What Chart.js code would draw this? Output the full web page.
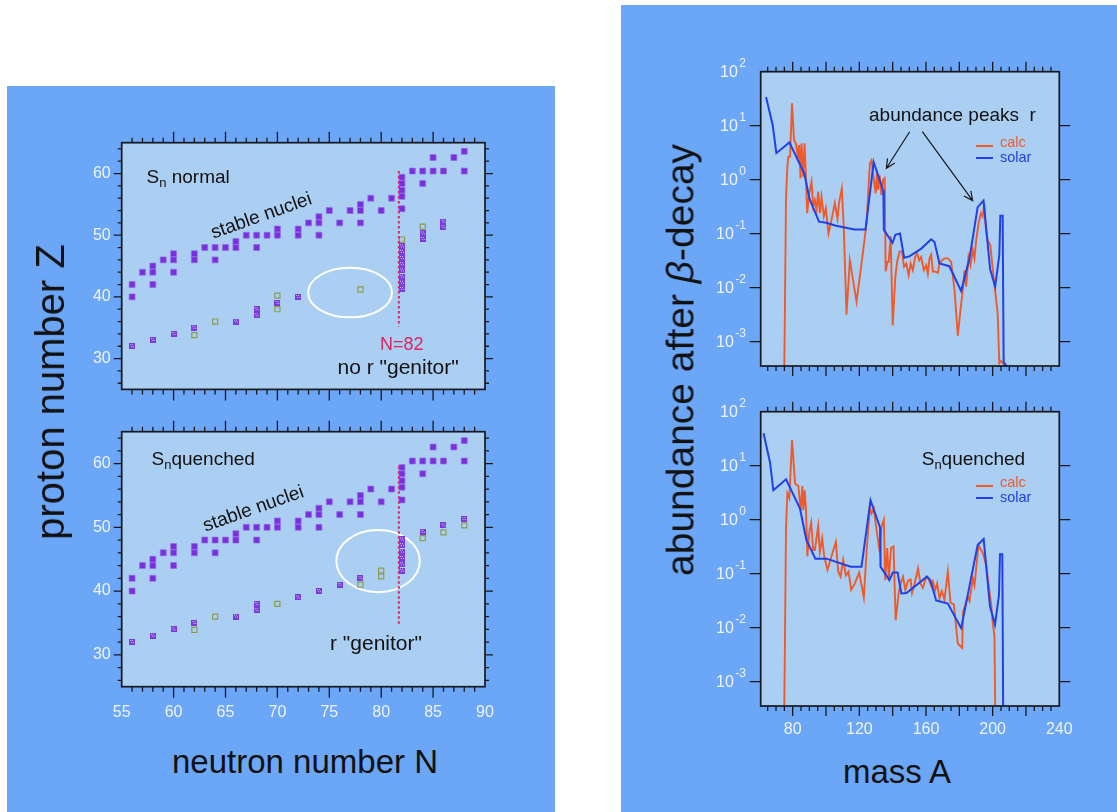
<!DOCTYPE html>
<html>
<head>
<meta charset="utf-8">
<script src="https://cdn.jsdelivr.net/npm/chart.js@4.4.1/dist/chart.umd.min.js"></script>
<style>
  body { margin: 0; width: 1117px; height: 812px; background: #fff; position: relative; overflow: hidden;
         font-family: "Liberation Sans", Arial, sans-serif; }
  .panel { position: absolute; background: #6ba6f7; }
  canvas { position: absolute; }
  .txt { position: absolute; white-space: pre; line-height: 1; color: #111; }
  .sub { position: relative; top: 4px; font-size: 13px; }
  .title { position: absolute; white-space: pre; line-height: 1; color: #111; transform: translate(-50%, -50%); }
  .leg { position: absolute; width: 17px; height: 0; border-top: 2px solid; }
</style>
</head>
<body>
<div class="panel" style="left:7px;top:86px;width:548px;height:726px"></div>
<div class="panel" style="left:621px;top:5px;width:496px;height:807px"></div>

<canvas id="zNormal" style="left:56px;top:120px" width="454" height="290"></canvas>
<canvas id="zQuench" style="left:56px;top:410px" width="454" height="320"></canvas>
<canvas id="abNormal" style="left:700px;top:50px" width="380" height="330"></canvas>
<canvas id="abQuench" style="left:700px;top:390px" width="380" height="360"></canvas>

<!-- left panel notes -->
<div class="txt" style="left:146.5px;top:167.2px;font-size:19px">S<span class="sub">n</span> normal</div>
<div class="title" style="left:261px;top:215px;font-size:19px;transform:translate(-50%,-50%) rotate(-19.5deg)">stable nuclei</div>
<div class="txt" style="left:380px;top:334.8px;font-size:18px;color:#e0245e">N=82</div>
<div class="txt" style="left:337.5px;top:355.7px;font-size:21px">no r "genitor"</div>
<div class="txt" style="left:151.5px;top:448.9px;font-size:19px">S<span class="sub">n</span>quenched</div>
<div class="title" style="left:253px;top:508px;font-size:19px;transform:translate(-50%,-50%) rotate(-19.5deg)">stable nuclei</div>
<div class="txt" style="left:330px;top:632.2px;font-size:21px">r "genitor"</div>

<!-- right panel notes -->
<div class="txt" style="left:869px;top:104.9px;font-size:19px">abundance peaks  r</div>
<div class="leg" style="left:976px;top:145px;border-color:#f05a28"></div>
<div class="txt" style="left:1000px;top:135px;font-size:14.5px;color:#f05a28">calc</div>
<div class="leg" style="left:976px;top:157px;border-color:#2040e8"></div>
<div class="txt" style="left:1000px;top:150px;font-size:14.5px;color:#2040e8">solar</div>
<div class="txt" style="left:921.7px;top:448.9px;font-size:19px">S<span class="sub">n</span>quenched</div>
<div class="leg" style="left:976px;top:485px;border-color:#f05a28"></div>
<div class="txt" style="left:1000px;top:475px;font-size:14.5px;color:#f05a28">calc</div>
<div class="leg" style="left:976px;top:497px;border-color:#2040e8"></div>
<div class="txt" style="left:1000px;top:490px;font-size:14.5px;color:#2040e8">solar</div>

<!-- axis titles -->
<div class="title" style="left:50px;top:392px;font-size:40px;transform:translate(-50%,-50%) rotate(-90deg)">proton number Z</div>
<div class="title" style="left:305px;top:761px;font-size:33px">neutron number N</div>
<div class="title" style="left:680px;top:360px;font-size:39px;transform:translate(-50%,-50%) rotate(-90deg)">abundance after <i>β</i>-decay</div>
<div class="title" style="left:897px;top:771px;font-size:33px">mass A</div>

<script>
// nuclide chart, left panel
var nTicks = [55, 60, 65, 70, 75, 80, 85, 90];
var zTicks = [30, 40, 50, 60];

var stableN = [56, 56, 57, 58, 58, 58, 59, 60, 60, 60, 62, 62, 63, 64, 64, 65, 66, 66, 67, 68, 68, 69, 70, 70, 72, 72, 73, 74, 74, 74,
               75, 76, 77, 78, 78, 78, 79, 80, 81, 82, 82, 82, 82, 82, 83, 84, 84, 85, 85, 86, 87, 88, 88];
var stableZ = [42, 40, 44, 45, 44, 42, 46, 47, 46, 44, 47, 46, 48, 48, 46, 48, 49, 48, 50, 50, 48, 50, 51, 50, 51, 50, 52, 53, 52, 50,
               54, 52, 54, 55, 54, 52, 56, 54, 56, 59.4, 58.4, 57.3, 56.3, 54.3, 60.4, 60.4, 58.4, 62.6, 60.4, 60.4, 62.6, 63.6, 60.4];

// S_n normal
var rNormN = [56, 58, 60, 62, 66, 68, 68, 70, 72, 82, 82, 82, 82, 82, 82, 82, 82, 84, 84, 86, 86];
var rNormZ = [32, 33, 34, 35, 36, 37, 38, 39, 40, 41.3, 42.3, 43.3, 44.3, 45.3, 46.3, 47.3, 48.2, 49.4, 50.3, 51.3, 52.2];
var openNormN = [62, 64, 70, 70, 78, 82, 84];
var openNormZ = [33.8, 36, 40.2, 38, 41.2, 49.3, 51.4];
var magicNormN = [81.7, 81.7];
var magicNormZ = [60.4, 35.2];

// S_n quenched
var rQuenchN = [56, 58, 60, 62, 66, 68, 68, 72, 74, 76, 78, 82, 82, 82, 82, 82, 82, 84, 86, 88];
var rQuenchZ = [32, 33, 34, 35, 36, 37, 38, 39, 40, 41, 42, 43.2, 44.2, 45.2, 46.2, 47.2, 48.1, 49.3, 50.3, 51.3];
var openQuenchN = [62, 64, 70, 78, 80, 80, 84, 86, 88];
var openQuenchZ = [33.9, 36, 38, 41, 42.3, 43.2, 48.3, 49.2, 50.3];
var magicQuenchN = [81.7, 81.7];
var magicQuenchZ = [59.6, 34.7];

// abundances, right panel
var massTicks = [80, 120, 160, 200, 240];
var decades = [-3, -2, -1, 0, 1, 2];

var solarNormA = [64, 68, 70.2, 78, 87, 90, 95.8, 100, 106, 117, 123.7, 128.6, 134.4, 134.7, 139.9, 141.6, 144.4, 146.9, 150, 157.2,
                  163.1, 165.1, 168.1, 174, 181.1, 186.1, 191, 194.5, 198.5, 201.5, 204, 204.6, 206, 206.6, 209];
var solarNormY = [34, 10.3, 3.1, 4.9, 1.3, 0.45, 0.167, 0.16, 0.14, 0.12, 0.12, 2.1, 0.62, 0.118, 0.068, 0.095, 0.101, 0.036, 0.038, 0.053,
                  0.079, 0.07, 0.028, 0.025, 0.0087, 0.035, 0.31, 0.41, 0.022, 0.0105, 0.04, 0.215, 0.215, 4.2e-4, 3.3e-4];

var calcNormA = [74.8, 76, 76.8, 77.4, 78.4, 79.6, 80.8, 81.9, 83.1, 83.9, 84.7, 85.3, 86.3, 87.1, 87.9, 88.7, 89.9, 91.3, 92.3, 93.3,
                 94.3, 95.3, 96.3, 97.3, 98.7, 99.9, 101.5, 103.3, 105.3, 106.9, 107.9, 109.5, 110.7, 112.3, 114.3, 118.3, 121.3, 124.3, 126.3, 127.3,
                 128.7, 129.8, 130.6, 131.2, 132.2, 133.2, 134.2, 135.2, 135.8, 136.8, 137.6, 138.8, 140.0, 141.6, 142.8, 144.2, 145.6, 146.8, 148.2, 149.6,
                 150.8, 152.1, 153.5, 154.7, 155.9, 157.1, 158.7, 160.1, 161.1, 162.1, 163.1, 164.1, 165.1, 167.1, 168.1, 169.5, 171.1, 173.1, 175.1, 177.1,
                 179.1, 180.7, 182.1, 183.1, 184.1, 185.5, 186.7, 188.1, 189.1, 190.1, 191.7, 193.0, 194.0, 195.0, 196.0, 197.0, 198.6, 199.4, 201.0, 203.0,
                 204.0, 205.0, 207.0, 210.0];
var calcNormY = [1e-4, 0.49, 1.74, 2.67, 2.67, 26, 5.4, 4.7, 2.67, 4.4, 1.06, 4.7, 1.14, 4.7, 1.22, 0.24, 0.56, 0.92, 0.32, 0.42,
                 0.275, 0.6, 0.24, 0.48, 0.21, 0.295, 0.10, 0.18, 0.37, 0.19, 0.39, 0.69, 0.117, 0.0032, 0.032, 0.0055, 0.028, 0.155, 2.0, 2.3,
                 0.99, 0.56, 1.5, 0.65, 1.2, 0.52, 0.99, 1.07, 0.02, 0.03, 0.03, 0.09, 0.002, 0.016, 0.032, 0.047, 0.047, 0.0245, 0.028, 0.017,
                 0.028, 0.021, 0.037, 0.043, 0.032, 0.037, 0.021, 0.026, 0.018, 0.035, 0.041, 0.02, 0.02, 0.019, 0.028, 0.032, 0.035, 0.035, 0.03, 0.0091,
                 0.0013, 0.0039, 0.0091, 0.021, 0.0105, 0.037, 0.026, 0.05, 0.035, 0.076, 0.166, 0.24, 0.21, 0.37, 0.117, 0.076, 0.062, 0.035, 0.012, 0.0034,
                 4e-4, 4.4e-4, 3.7e-4, 3.4e-4];

var solarQuenchA = [62.5, 66.4, 68.4, 76, 84.4, 88.2, 93.6, 100.3, 114.8, 121.3, 126.7, 132.4, 132.7, 138, 140.1, 143, 145.2, 148.3, 160.6, 162.6,
                    166.1, 173.1, 181.1, 191.0, 194.6, 198.4, 201.4, 203.8, 204.4, 205.8, 206.4];
var solarQuenchY = [40, 11.5, 3.5, 5.6, 1.6, 0.42, 0.19, 0.19, 0.135, 0.135, 2.3, 0.72, 0.135, 0.076, 0.105, 0.105, 0.043, 0.044, 0.088, 0.076,
                    0.032, 0.028, 0.0098, 0.34, 0.44, 0.025, 0.0114, 0.04, 0.23, 0.23, 1e-4];

var calcQuenchA = [74.8, 76.0, 76.8, 78.0, 79.6, 81.4, 83.4, 84.8, 85.8, 86.4, 87.2, 88.0, 88.8, 90.0, 91.1, 92.3, 93.3, 95.3, 96.3, 97.7,
                   98.9, 100.9, 103.3, 105.9, 107.3, 108.7, 110.3, 111.9, 113.5, 115.1, 117.3, 119.9, 121.3, 122.7, 124.3, 126.3, 127.3, 128.7, 130.3, 131.9,
                   133.3, 134.7, 135.5, 136.7, 137.7, 139.0, 140.5, 141.8, 143.6, 144.8, 146.2, 147.6, 149.2, 150.8, 151.6, 153.2, 155.2, 156.7, 158.1, 160.2,
                   161.5, 163.1, 164.1, 165.5, 166.7, 168.1, 169.5, 171.1, 173.1, 174.7, 176.7, 179.1, 181.7, 182.3, 185.1, 186.1, 188.1, 189.1, 191.5, 194.1,
                   196.1, 199.1, 200.1, 201.1, 201.7];
var calcQuenchY = [1e-4, 0.74, 3.1, 2.5, 30, 4.7, 4.2, 1.5, 4.2, 1.5, 3.5, 1.5, 0.21, 0.6, 0.88, 0.275, 0.275, 0.76, 0.25, 0.45,
                   0.21, 0.118, 0.21, 0.39, 0.11, 0.088, 0.18, 0.093, 0.11, 0.05, 0.066, 0.105, 0.062, 0.036, 0.25, 1.7, 1.3, 1.6, 0.65, 0.30,
                   0.75, 1.0, 0.076, 0.30, 0.08, 0.30, 0.32, 0.0138, 0.044, 0.066, 0.088, 0.05, 0.074, 0.078, 0.044, 0.066, 0.126, 0.066, 0.055, 0.088,
                   0.08, 0.06, 0.072, 0.05, 0.066, 0.035, 0.048, 0.033, 0.11, 0.029, 0.027, 0.0051, 0.0042, 0.02, 0.037, 0.031, 0.082, 0.06, 0.34, 0.24,
                   0.145, 0.027, 0.012, 0.0068, 1e-4];

var fam = '"Liberation Sans", Arial, sans-serif';
var plotBg = '#abcff3';
var labelColor = '#eef4ff';
var inkColor = '#17181c';

Chart.defaults.font.family = fam;
Chart.defaults.animation = false;

function pts(xs, ys) {
    return xs.map(function (x, i) { return { x: x, y: ys[i] }; });
}

function tickList(from, to, step, major) {
    var out = [];
    for (var v = from; v <= to + 1e-9; v += step) {
        out.push({ v: v, major: Math.abs(v / major - Math.round(v / major)) < 1e-6 });
    }
    return out;
}

// small checkered square for the r-process nuclei
function hatched() {
    var c = document.createElement('canvas');
    c.width = 6; c.height = 6;
    var g = c.getContext('2d');
    g.fillStyle = '#7a3ade';
    g.fillRect(0, 0, 6, 6);
    g.fillStyle = '#d2c4f8';
    for (var i = 1; i < 5; i += 2)
        for (var j = 1; j < 5; j += 2)
            g.fillRect(i + (j === 3 ? 1 : 0), j, 1, 1);
    return c;
}
var hatchImg = hatched();

// plot background, frame, outward ticks and extra drawings
function frame(cfg) {
    return {
        id: 'frame',
        beforeDatasetsDraw: function (chart) {
            var ctx = chart.ctx, a = chart.chartArea, x = chart.scales.x, y = chart.scales.y;
            ctx.save();
            ctx.fillStyle = plotBg;
            ctx.fillRect(a.left, a.top, a.width, a.height);
            if (cfg.ellipse) {
                var e = cfg.ellipse;
                var cx = x.getPixelForValue(e.cx), cy = y.getPixelForValue(e.cy);
                ctx.beginPath();
                ctx.ellipse(cx, cy, Math.abs(x.getPixelForValue(e.cx + e.rx) - cx),
                            Math.abs(y.getPixelForValue(e.cy + e.ry) - cy), 0, 0, Math.PI * 2);
                ctx.strokeStyle = '#ffffff';
                ctx.lineWidth = 2;
                ctx.stroke();
            }
            ctx.restore();
        },
        afterDraw: function (chart) {
            var ctx = chart.ctx, a = chart.chartArea, x = chart.scales.x, y = chart.scales.y;
            ctx.save();
            ctx.strokeStyle = inkColor;
            ctx.lineWidth = 1.3;
            ctx.beginPath();
            cfg.xTicks.forEach(function (t) {
                var px = x.getPixelForValue(t.v), len = t.major ? cfg.xLen[1] : cfg.xLen[0];
                ctx.moveTo(px, a.top); ctx.lineTo(px, a.top - len);
                ctx.moveTo(px, a.bottom); ctx.lineTo(px, a.bottom + len);
            });
            cfg.yTicks.forEach(function (t) {
                var py = y.getPixelForValue(t.v), len = t.major ? cfg.yLen[1] : cfg.yLen[0];
                ctx.moveTo(a.left, py); ctx.lineTo(a.left - len, py);
                ctx.moveTo(a.right, py); ctx.lineTo(a.right + len, py);
            });
            ctx.stroke();

            (cfg.arrows || []).forEach(function (ar) {
                var x1 = x.getPixelForValue(ar.from[0]), y1 = y.getPixelForValue(ar.from[1]);
                var x2 = x.getPixelForValue(ar.to[0]), y2 = y.getPixelForValue(ar.to[1]);
                var ang = Math.atan2(y2 - y1, x2 - x1), h = 10;
                ctx.beginPath();
                ctx.moveTo(x1, y1); ctx.lineTo(x2, y2);
                ctx.moveTo(x2 - h * Math.cos(ang - 0.45), y2 - h * Math.sin(ang - 0.45));
                ctx.lineTo(x2, y2);
                ctx.lineTo(x2 - h * Math.cos(ang + 0.45), y2 - h * Math.sin(ang + 0.45));
                ctx.lineWidth = 1.2;
                ctx.stroke();
            });

            ctx.lineWidth = 1.7;
            ctx.strokeRect(a.left, a.top, a.width, a.height);

            if (cfg.logLabels) {
                ctx.fillStyle = labelColor;
                ctx.textAlign = 'right';
                ctx.textBaseline = 'alphabetic';
                cfg.logLabels.forEach(function (e) {
                    var py = y.getPixelForValue(Math.pow(10, e)), xr = a.left - 14.7;
                    ctx.font = '12px ' + fam;
                    var sup = String(e);
                    ctx.fillText(sup, xr, py - 4.6);
                    var w = ctx.measureText(sup).width;
                    ctx.font = '16px ' + fam;
                    ctx.fillText('10', xr - w - 1.5, py + 5.5);
                });
            }
            ctx.restore();
        }
    };
}

function fixTicks(list) {
    return function (scale) {
        scale.ticks = list.map(function (v) { return { value: v }; });
    };
}

// fixed axis band, no extra side padding for end labels
function fitX(show, h) {
    return function (s) {
        if (show) s.height = h;
        s.paddingLeft = 0;
        s.paddingRight = 0;
    };
}

function nuclideChart(id, d) {
    return new Chart(document.getElementById(id), {
        type: 'scatter',
        data: {
            datasets: [{
                data: pts(d.magicN, d.magicZ),
                showLine: true,
                borderColor: '#e0245e',
                borderWidth: 2,
                borderDash: [2.5, 2.5],
                pointRadius: 0
            }, {
                data: pts(d.openN, d.openZ),
                pointStyle: 'rect',
                pointRadius: 3.6,
                backgroundColor: 'rgba(0,0,0,0)',
                borderColor: '#8a9d4e',
                borderWidth: 1.2
            }, {
                data: pts(d.rN, d.rZ),
                pointStyle: hatchImg
            }, {
                data: pts(stableN, stableZ),
                pointStyle: 'rect',
                pointRadius: 4.2,
                backgroundColor: '#7a2fdc',
                borderColor: 'rgba(150,110,235,0.7)',
                borderWidth: 1
            }]
        },
        options: {
            responsive: false,
            layout: { padding: { top: d.top, right: 25, bottom: d.showX ? 0 : 11.7, left: 0 } },
            scales: {
                x: {
                    type: 'linear', min: 55, max: 90, display: d.showX,
                    grid: { display: false, drawTicks: false }, border: { display: false },
                    ticks: { color: labelColor, font: { size: 16 }, padding: 16 },
                    afterBuildTicks: fixTicks(nTicks),
                    afterFit: fitX(d.showX, 43.3)
                },
                y: {
                    type: 'linear', min: 25, max: 65,
                    grid: { display: false, drawTicks: false }, border: { display: false },
                    ticks: { color: labelColor, font: { size: 16 }, padding: 11 },
                    afterBuildTicks: fixTicks(zTicks),
                    afterFit: function (s) { s.width = 65.7; }
                }
            },
            plugins: { legend: { display: false }, tooltip: { enabled: false } }
        },
        plugins: [frame({
            xTicks: tickList(56, 89, 1, 5), xLen: [5, 11],
            yTicks: tickList(26, 64, 2, 10), yLen: [4, 8],
            ellipse: d.ellipse
        })]
    });
}

function abundanceChart(id, d) {
    return new Chart(document.getElementById(id), {
        type: 'scatter',
        data: {
            datasets: [{
                label: 'solar',
                data: pts(d.solarA, d.solarY),
                showLine: true,
                borderColor: '#2040e8',
                borderWidth: 2,
                pointRadius: 0
            }, {
                label: 'calc',
                data: pts(d.calcA, d.calcY),
                showLine: true,
                borderColor: '#f05a28',
                borderWidth: 1.9,
                pointRadius: 0
            }]
        },
        options: {
            responsive: false,
            layout: { padding: { top: 21.7, right: 20.7, bottom: d.showX ? 0 : 14, left: 0 } },
            scales: {
                x: {
                    type: 'linear', min: 60.8, max: 240, display: d.showX,
                    grid: { display: false, drawTicks: false }, border: { display: false },
                    ticks: { color: labelColor, font: { size: 16 }, padding: 14 },
                    afterBuildTicks: fixTicks(massTicks),
                    afterFit: fitX(d.showX, 44)
                },
                y: {
                    type: 'logarithmic', min: 3.55e-4, max: 100,
                    grid: { display: false, drawTicks: false }, border: { display: false },
                    ticks: { display: false },
                    afterFit: function (s) { s.width = 60.7; }
                }
            },
            plugins: { legend: { display: false }, tooltip: { enabled: false } }
        },
        plugins: [frame({
            xTicks: tickList(65, 235, 5, 20), xLen: [5, 10],
            yTicks: decades.slice(0, 5).map(function (e) { return { v: Math.pow(10, e), major: true }; }), yLen: [11, 11],
            logLabels: decades,
            arrows: d.arrows
        })]
    });
}

nuclideChart('zNormal', {
    rN: rNormN, rZ: rNormZ, openN: openNormN, openZ: openNormZ, magicN: magicNormN, magicZ: magicNormZ,
    showX: false, top: 22.7,
    ellipse: { cx: 77.0, cy: 40.7, rx: 4.04, ry: 4.02 }
});

nuclideChart('zQuench', {
    rN: rQuenchN, rZ: rQuenchZ, openN: openQuenchN, openZ: openQuenchZ, magicN: magicQuenchN, magicZ: magicQuenchZ,
    showX: true, top: 21.7,
    ellipse: { cx: 79.7, cy: 44.7, rx: 4.02, ry: 4.87 }
});

abundanceChart('abNormal', {
    solarA: solarNormA, solarY: solarNormY, calcA: calcNormA, calcY: calcNormY, showX: false,
    arrows: [{ from: [150.2, 7.74], to: [136.2, 1.63] }, { from: [157.8, 7.74], to: [188.0, 0.41] }]
});

abundanceChart('abQuench', {
    solarA: solarQuenchA, solarY: solarQuenchY, calcA: calcQuenchA, calcY: calcQuenchY, showX: true
});
</script>
</body>
</html>
